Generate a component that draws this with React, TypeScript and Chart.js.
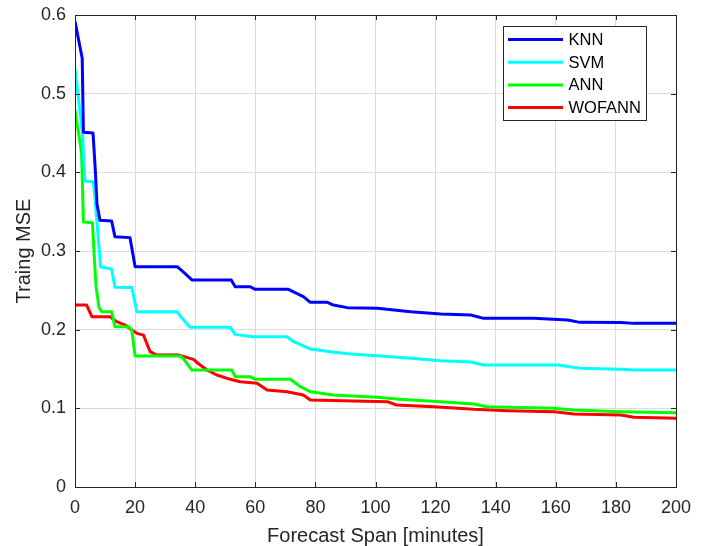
import React, { useEffect, useRef } from "react";
import { Chart, registerables } from "chart.js";

Chart.register(...registerables);

const seriesLabels = ["KNN", "SVM", "ANN", "WOFANN"];
const seriesColors = ["#0000ff", "#00ffff", "#00ff00", "#ff0000"];

const knnX = [0, 2.4, 2.8, 6.0, 6.8, 7.3, 8.3, 12.2, 13.3, 18.3, 20, 34, 35, 39, 52, 53.3, 58.3, 60, 71, 76, 78.3, 84, 86, 90.6, 100.6, 111.7, 121.7, 131.7, 136, 152.7, 164, 168, 181.7, 186, 200];
const knnY = [0.592, 0.545, 0.451, 0.45, 0.4, 0.36, 0.339, 0.338, 0.318, 0.317, 0.28, 0.28, 0.277, 0.263, 0.263, 0.2546, 0.2546, 0.2513, 0.2513, 0.242, 0.2348, 0.2348, 0.2313, 0.228, 0.2271, 0.2229, 0.22, 0.2186, 0.2144, 0.2144, 0.2123, 0.2093, 0.209, 0.208, 0.208];

const svmX = [0, 2.5, 3.3, 6.1, 6.7, 7.8, 8.5, 12.2, 13.3, 18.9, 20.6, 34, 35, 38.3, 51.7, 53.3, 59, 70.5, 72.8, 78.3, 85, 91.7, 101.7, 111.7, 121.7, 131.7, 136, 160.6, 168, 181.7, 186, 200];
const svmY = [0.532, 0.45, 0.389, 0.388, 0.365, 0.314, 0.28, 0.277, 0.2538, 0.2535, 0.2229, 0.2229, 0.2174, 0.203, 0.203, 0.194, 0.191, 0.191, 0.1847, 0.1755, 0.172, 0.169, 0.1665, 0.1636, 0.1606, 0.159, 0.155, 0.155, 0.1509, 0.1496, 0.1487, 0.1487];

const annX = [0, 2.2, 2.8, 5.8, 6.3, 7.0, 8.0, 8.9, 12.2, 13.3, 17.8, 18.9, 20, 35, 36, 38.9, 52.2, 53.3, 58.3, 60, 71.7, 75, 78.3, 86, 100.5, 108, 121.7, 132.7, 137, 159, 166, 181.7, 200];
const annY = [0.479, 0.4246, 0.337, 0.336, 0.3, 0.255, 0.228, 0.2229, 0.2229, 0.2038, 0.2038, 0.1996, 0.1665, 0.1665, 0.1636, 0.1487, 0.1487, 0.1402, 0.1402, 0.1369, 0.1369, 0.1275, 0.1211, 0.117, 0.114, 0.1115, 0.1085, 0.1055, 0.102, 0.1, 0.0979, 0.0957, 0.0945];

const wofannX = [0, 3.9, 5.6, 11.7, 13.9, 16.7, 18.9, 20.6, 22.8, 25, 27.2, 34.4, 39.4, 41, 43.9, 47.2, 51.7, 55, 60.6, 63.9, 70.5, 76, 78.3, 103.9, 107, 119.4, 132.7, 143.9, 159.4, 166, 181.7, 186, 200];
const wofannY = [0.2313, 0.2313, 0.2165, 0.2165, 0.2101, 0.2059, 0.1996, 0.1953, 0.193, 0.172, 0.1678, 0.1678, 0.1623, 0.157, 0.1487, 0.1424, 0.1369, 0.1338, 0.1318, 0.1233, 0.1211, 0.117, 0.1106, 0.1085, 0.1042, 0.102, 0.0987, 0.097, 0.0957, 0.0928, 0.0915, 0.0886, 0.0873];

const xTicks = [0, 20, 40, 60, 80, 100, 120, 140, 160, 180, 200];
const yTicks = [0, 0.1, 0.2, 0.3, 0.4, 0.5, 0.6];

const FONT = "'Liberation Sans', Arial, Helvetica, sans-serif";
const AXIS_COLOR = "#262626";

const toPoints = (xs: number[], ys: number[]) => xs.map((x, i) => ({ x, y: ys[i] }));

const boxPlugin = {
  id: "matlabBox",
  afterDatasetsDraw(chart: any) {
    const { ctx, chartArea: a, scales } = chart;
    ctx.save();
    ctx.strokeStyle = AXIS_COLOR;
    ctx.lineWidth = 1;
    const tl = 5;
    ctx.beginPath();
    xTicks.forEach((v) => {
      const px = Math.round(scales.x.getPixelForValue(v)) + 0.5;
      ctx.moveTo(px, a.bottom);
      ctx.lineTo(px, a.bottom - tl);
      ctx.moveTo(px, a.top);
      ctx.lineTo(px, a.top + tl);
    });
    yTicks.forEach((v) => {
      const py = Math.round(scales.y.getPixelForValue(v)) + 0.5;
      ctx.moveTo(a.left, py);
      ctx.lineTo(a.left + tl, py);
      ctx.moveTo(a.right, py);
      ctx.lineTo(a.right - tl, py);
    });
    ctx.stroke();
    ctx.strokeRect(Math.round(a.left) + 0.5, Math.round(a.top) + 0.5, Math.round(a.right - a.left), Math.round(a.bottom - a.top));
    ctx.restore();
  },
  afterDraw(chart: any) {
    const { ctx, chartArea: a } = chart;
    const bx = Math.round(a.right) - 173 + 0.5;
    const by = Math.round(a.top) + 11 + 0.5;
    const bw = 143;
    const bh = 94;
    ctx.save();
    ctx.fillStyle = "#ffffff";
    ctx.fillRect(bx, by, bw, bh);
    ctx.strokeStyle = AXIS_COLOR;
    ctx.lineWidth = 1;
    ctx.strokeRect(bx, by, bw, bh);
    ctx.font = `16.5px ${FONT}`;
    ctx.textBaseline = "middle";
    ctx.textAlign = "left";
    chart.data.datasets.forEach((ds: any, i: number) => {
      const y = by + 13 + i * 22.7;
      ctx.strokeStyle = ds.borderColor;
      ctx.lineWidth = 3;
      ctx.beginPath();
      ctx.moveTo(bx + 4.5, y);
      ctx.lineTo(bx + 59.5, y);
      ctx.stroke();
      ctx.fillStyle = "#000000";
      ctx.fillText(ds.label, bx + 65, y + 1);
    });
    ctx.restore();
  },
};

export default function App() {
  const ref = useRef<HTMLCanvasElement | null>(null);

  useEffect(() => {
    if (!ref.current) return;
    const allX = [knnX, svmX, annX, wofannX];
    const allY = [knnY, svmY, annY, wofannY];
    const chart = new Chart(ref.current, {
      type: "scatter",
      data: {
        datasets: seriesLabels.map((label, i) => ({
          label,
          data: toPoints(allX[i], allY[i]),
          showLine: true,
          borderColor: seriesColors[i],
          backgroundColor: seriesColors[i],
          borderWidth: 3,
          pointRadius: 0,
          tension: 0,
          borderJoinStyle: "round" as const,
        })),
      },
      options: {
        animation: false,
        responsive: false,
        devicePixelRatio: 1,
        layout: { padding: { left: 0, top: 15, right: 33, bottom: 0 } },
        plugins: {
          legend: { display: false },
          tooltip: { enabled: false },
        },
        scales: {
          x: {
            type: "linear",
            min: 0,
            max: 200,
            afterFit: (s: any) => {
              s.height = 59;
              s.paddingLeft = 0;
              s.paddingRight = 0;
            },
            afterBuildTicks: (s: any) => {
              s.ticks = xTicks.map((v) => ({ value: v }));
            },
            border: { display: false },
            grid: { color: "#dcdcdc", lineWidth: 1, drawTicks: false },
            ticks: {
              color: AXIS_COLOR,
              font: { family: FONT, size: 18 },
              padding: 10,
              maxRotation: 0,
              callback: (v: any) => String(v),
            },
            title: {
              display: true,
              text: "Forecast Span [minutes]",
              color: AXIS_COLOR,
              font: { family: FONT, size: 20, lineHeight: 1.0 },
              padding: { top: 0, bottom: 0 },
            },
          },
          y: {
            type: "linear",
            min: 0,
            max: 0.6,
            afterFit: (s: any) => {
              s.width = 75;
              s.paddingTop = 0;
              s.paddingBottom = 0;
            },
            afterBuildTicks: (s: any) => {
              s.ticks = yTicks.map((v) => ({ value: v }));
            },
            border: { display: false },
            grid: { color: "#dcdcdc", lineWidth: 1, drawTicks: false },
            ticks: {
              color: AXIS_COLOR,
              font: { family: FONT, size: 18 },
              padding: 9,
              callback: (v: any) => (v === 0 ? "0" : Number(v).toFixed(1)),
            },
            title: {
              display: true,
              text: "Traing MSE",
              color: AXIS_COLOR,
              font: { family: FONT, size: 20, lineHeight: 1.2 },
              padding: { top: 12, bottom: 0 },
            },
          },
        },
      },
      plugins: [boxPlugin],
    });
    return () => chart.destroy();
  }, []);

  return (
    <div style={{ position: "fixed", left: 0, top: 0, width: 709, height: 546, background: "#ffffff" }}>
      <canvas ref={ref} width={709} height={546} style={{ display: "block" }} />
    </div>
  );
}
